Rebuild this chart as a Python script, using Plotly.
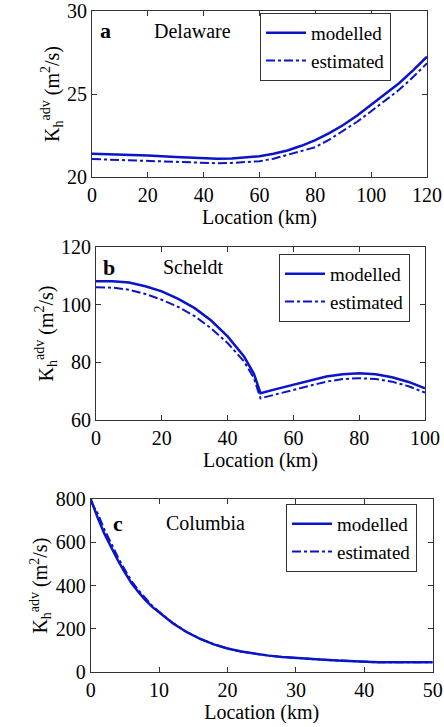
import plotly.graph_objects as go

# Panel a: Delaware
del_x = [0, 10, 20, 30, 40, 45, 50, 55, 60, 65, 70, 75, 80, 85, 90, 95, 100, 105, 110, 115, 120]
del_mod = [21.4, 21.36, 21.3, 21.2, 21.12, 21.1, 21.12, 21.17, 21.25, 21.4, 21.6, 21.88, 22.22, 22.64, 23.13, 23.7, 24.35, 24.98, 25.65, 26.42, 27.25]
del_est = [21.08, 21.02, 20.96, 20.9, 20.84, 20.83, 20.85, 20.88, 20.95, 21.1, 21.32, 21.55, 21.8, 22.25, 22.77, 23.33, 23.96, 24.58, 25.25, 26.02, 26.85]

# Panel b: Scheldt
sch_x = [0, 5, 10, 15, 20, 25, 30, 35, 40, 45, 48, 50, 55, 60, 65, 70, 75, 80, 85, 90, 95, 100]
sch_mod = [108.1, 108.1, 107.7, 106.4, 104.6, 102.0, 98.8, 94.5, 89.0, 82.0, 76.0, 69.3, 70.8, 72.2, 73.7, 75.1, 75.9, 76.2, 75.9, 74.8, 73.2, 71.0]
sch_est = [106.0, 105.9, 105.2, 103.7, 101.7, 99.2, 96.0, 91.8, 86.7, 80.3, 74.5, 67.5, 69.0, 70.4, 71.9, 73.3, 74.2, 74.5, 74.2, 73.3, 71.7, 69.5]

# Panel c: Columbia
col_x = [0, 1, 2, 3, 4, 5, 6, 7, 8, 9, 10, 12, 14, 16, 18, 20, 22, 24, 26, 28, 30, 33, 36, 40, 42, 45, 50]
col_mod = [800, 715, 640, 575, 515, 460, 410, 370, 333, 302, 276, 226, 186, 154, 129, 110, 96, 85, 77, 71, 66, 60, 55, 50, 46, 46, 46]
col_est = [790, 735, 660, 592, 530, 473, 420, 378, 340, 307, 280, 228, 187, 155, 130, 110, 96, 85, 77, 71, 66, 60, 55, 50, 46, 46, 46]

names = ["modelled", "estimated"]
blue = "#0a14c8"
font_family = "Liberation Serif, Times New Roman, serif"
fs = 20

panels = [
    dict(x=del_x, m=del_mod, e=del_est, xr=[0, 120], yr=[20, 30], dx=20, dy=5,
         xd=[92/444, 427/444], yd=[1-177/727, 1-11/727], leg=(260/444, 1-13/727),
         letter="a", name="Delaware", lx=105, nx=192, ty=31),
    dict(x=sch_x, m=sch_mod, e=sch_est, xr=[0, 100], yr=[60, 120], dx=20, dy=20,
         xd=[96/444, 425/444], yd=[1-420/727, 1-247/727], leg=(279/444, 1-254/727),
         letter="b", name="Scheldt", lx=109, nx=193, ty=267),
    dict(x=col_x, m=col_mod, e=col_est, xr=[0, 50], yr=[0, 800], dx=10, dy=200,
         xd=[90.7/444, 432.7/444], yd=[1-672.3/727, 1-499/727], leg=(286/444, 1-504/727),
         letter="c", name="Columbia", lx=118, nx=205, ty=523),
]

fig = go.Figure()
annotations = []
layout = dict(
    width=444, height=727, margin=dict(l=0, r=0, t=0, b=0, autoexpand=False),
    paper_bgcolor="white", plot_bgcolor="white",
    font=dict(family=font_family, size=fs, color="black"),
)

for i, p in enumerate(panels):
    k = "" if i == 0 else str(i + 1)
    legname = "legend" + k
    fig.add_trace(go.Scatter(x=p["x"], y=p["m"], mode="lines", name=names[0],
                             line=dict(color=blue, width=2.5),
                             xaxis="x" + k, yaxis="y" + k, legend=legname))
    fig.add_trace(go.Scatter(x=p["x"], y=p["e"], mode="lines", name=names[1],
                             line=dict(color=blue, width=2, dash="dashdot"),
                             xaxis="x" + k, yaxis="y" + k, legend=legname))
    axis_common = dict(showgrid=False, zeroline=False, showline=True, mirror="ticks",
                       linecolor="#333333", linewidth=1, ticks="inside", ticklen=5,
                       tickcolor="#333333", automargin=False, ticklabeloverflow="allow",
                       tickfont=dict(size=fs, family=font_family))
    layout["xaxis" + k] = dict(domain=p["xd"], range=p["xr"], dtick=p["dx"],
                               anchor="y" + k,
                               title=dict(text="Location (km)", standoff=0,
                                          font=dict(size=fs, family=font_family)),
                               **axis_common)
    layout["yaxis" + k] = dict(domain=p["yd"], range=p["yr"], dtick=p["dy"],
                               anchor="x" + k,
                               title=dict(text="K<sub>h</sub><sup>adv</sup> (m<sup>2</sup>/s)",
                                          standoff=2,
                                          font=dict(size=fs, family=font_family)),
                               **axis_common)
    layout[legname] = dict(x=p["leg"][0], y=p["leg"][1], xanchor="left", yanchor="top",
                           bgcolor="white", bordercolor="#333333", borderwidth=1,
                           font=dict(size=19, family=font_family), itemwidth=40,
                           tracegroupgap=0)
    annotations.append(dict(x=p["lx"] / 444, y=1 - p["ty"] / 727, xref="paper", yref="paper",
                            xanchor="center", yanchor="middle",
                            text="<b>" + p["letter"] + "</b>", showarrow=False,
                            font=dict(size=22, family=font_family)))
    annotations.append(dict(x=p["nx"] / 444, y=1 - p["ty"] / 727, xref="paper", yref="paper",
                            xanchor="center", yanchor="middle",
                            text=p["name"], showarrow=False,
                            font=dict(size=fs, family=font_family)))

layout["annotations"] = annotations
layout["showlegend"] = True
fig.update_layout(**layout)
fig.write_html("out.html")
